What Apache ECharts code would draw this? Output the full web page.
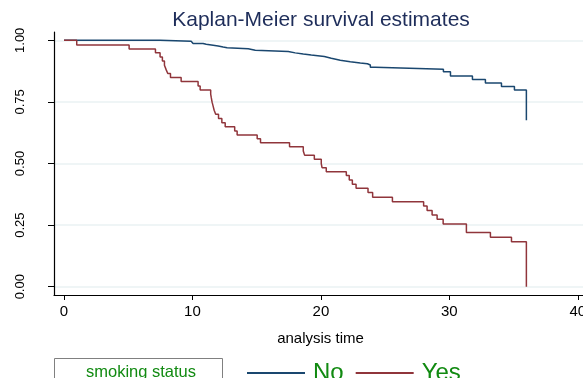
<!DOCTYPE html>
<html>
<head>
<meta charset="utf-8">
<style>
  html, body { margin: 0; padding: 0; background: #ffffff; }
  #chart { width: 583px; height: 378px; }
</style>
<script src="https://cdn.jsdelivr.net/npm/echarts@6/dist/echarts.min.js"></script>
</head>
<body>
<div id="chart"></div>
<script>
// survival steps: time of each drop and the value after it
const noTimes = [0, 7.48, 9.9, 10.05, 10.83, 11.07, 11.61, 12.0, 12.39, 12.7, 14.34, 14.89, 17.46, 18.0, 18.63, 19.25, 20.27, 20.81, 21.51, 22.29, 23.07, 23.62, 23.85, 24.24, 29.54, 30.09, 31.8, 32.81, 34.06, 35.07, 36.0];
const noSurvival = [1.0, 0.996, 0.991, 0.987, 0.984, 0.98, 0.977, 0.973, 0.97, 0.966, 0.96, 0.955, 0.949, 0.944, 0.94, 0.934, 0.927, 0.919, 0.913, 0.908, 0.905, 0.9, 0.891, 0.883, 0.872, 0.855, 0.841, 0.827, 0.813, 0.798, 0.676];

const yesTimes = [0, 0.99, 5.07, 7.12, 7.48, 7.66, 7.82, 7.95, 8.08, 8.29, 9.12, 10.44, 10.6, 11.42, 11.47, 11.53, 11.61, 11.69, 11.81, 12.03, 12.29, 12.55, 13.29, 13.48, 15.04, 15.3, 17.56, 18.63, 18.73, 19.49, 20.03, 20.09, 20.42, 21.98, 22.21, 22.45, 22.74, 23.67, 24.03, 25.57, 28.0, 28.27, 28.66, 29.05, 29.52, 31.33, 33.2, 34.84, 36.0];
const yesSurvival = [1.0, 0.981, 0.965, 0.949, 0.932, 0.916, 0.899, 0.881, 0.865, 0.849, 0.833, 0.815, 0.798, 0.782, 0.766, 0.749, 0.733, 0.716, 0.7, 0.683, 0.665, 0.649, 0.632, 0.616, 0.6, 0.584, 0.568, 0.551, 0.534, 0.517, 0.5, 0.483, 0.467, 0.451, 0.433, 0.416, 0.4, 0.382, 0.363, 0.345, 0.328, 0.309, 0.291, 0.274, 0.255, 0.22, 0.201, 0.183, 0];

const groupNames = ["No", "Yes"];
const xTicks = [0, 10, 20, 30, 40];
const yTicks = [0, 0.25, 0.5, 0.75, 1];
const yTickLabels = ["0.00", "0.25", "0.50", "0.75", "1.00"];

const navy = "#1a476f";
const maroon = "#90353b";
const green = "#118a11";

const chart = echarts.init(document.getElementById("chart"));

function pairs(times, values) {
  return times.map((t, i) => [t, values[i]]);
}

chart.setOption({
  animation: false,
  backgroundColor: "#ffffff",
  textStyle: { fontFamily: "Liberation Sans, Arial, sans-serif" },
  title: {
    text: "Kaplan-Meier survival estimates",
    left: 316,
    textAlign: "center",
    top: 5,
    textStyle: { color: "#1e2d5a", fontSize: 21, fontWeight: "normal" },
  },
  grid: { left: 54, right: -4, top: 32, bottom: 83, outerBoundsMode: "none" },
  xAxis: {
    type: "value",
    min: -0.779,
    max: 40.72,
    name: "analysis time",
    nameLocation: "middle",
    nameGap: 36,
    nameTextStyle: { color: "#000000", fontSize: 15 },
    axisLine: { onZero: false, lineStyle: { color: "#000000", width: 1.2 } },
    axisTick: { customValues: xTicks, length: 5, lineStyle: { color: "#000000" } },
    axisLabel: { customValues: xTicks, color: "#000000", fontSize: 15, margin: 9 },
    splitLine: { show: false },
  },
  yAxis: {
    type: "value",
    min: -0.0336,
    max: 1.0337,
    axisLine: { show: true, onZero: false, lineStyle: { color: "#000000", width: 1.2 } },
    axisTick: { show: true, customValues: yTicks, length: 6, lineStyle: { color: "#000000" } },
    axisLabel: {
      customValues: yTicks,
      rotate: 90,
      color: "#000000",
      fontSize: 13,
      margin: 27,
      formatter: (value) => yTickLabels[yTicks.indexOf(value)] ?? "",
    },
    splitLine: { show: true, customValues: yTicks, lineStyle: { color: "#eaf2f3", width: 1.5 } },
  },
  legend: {
    data: groupNames,
    left: 247,
    top: 361,
    padding: 0,
    icon: "rect",
    itemWidth: 58,
    itemHeight: 2,
    itemGap: 12,
    textStyle: { color: green, fontSize: 24, padding: [0, 0, 0, 3] },
  },
  graphic: [
    {
      type: "rect",
      left: 54,
      top: 358,
      shape: { width: 168, height: 30 },
      style: { fill: "#ffffff", stroke: "#808080", lineWidth: 1 },
    },
    {
      type: "text",
      left: 86,
      top: 364,
      style: { text: "smoking status", fill: green, fontSize: 16.5, fontFamily: "Liberation Sans, Arial, sans-serif" },
    },
  ],
  series: [
    {
      name: groupNames[0],
      type: "line",
      step: "end",
      showSymbol: false,
      color: navy,
      lineStyle: { color: navy, width: 1.5 },
      data: pairs(noTimes, noSurvival),
    },
    {
      name: groupNames[1],
      type: "line",
      step: "end",
      showSymbol: false,
      color: maroon,
      lineStyle: { color: maroon, width: 1.5 },
      data: pairs(yesTimes, yesSurvival),
    },
  ],
});
</script>
</body>
</html>
